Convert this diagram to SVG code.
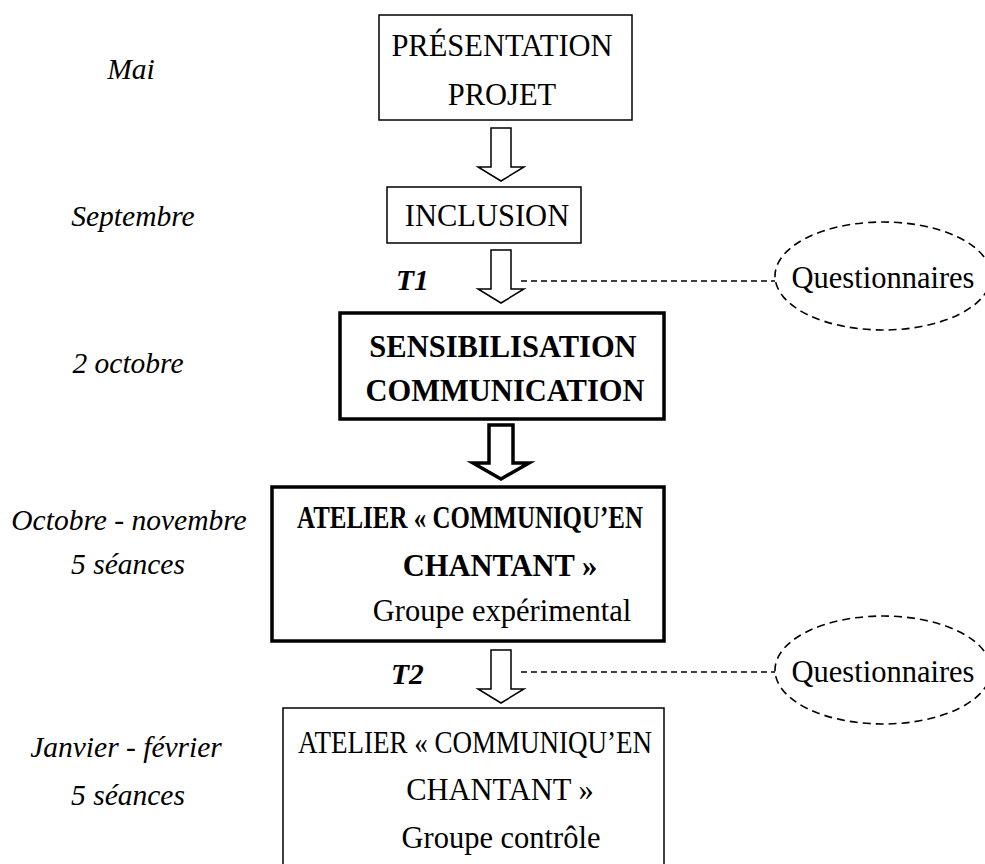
<svg xmlns="http://www.w3.org/2000/svg" width="985" height="864" viewBox="0 0 985 864">
<style>
  text { font-family: "Liberation Serif", "Times New Roman", serif; font-size: 30.5px; fill: #000; }
  .c { text-anchor: middle; }
  .b { font-weight: bold; }
  .i { font-style: italic; font-size: 29.5px; }
  .box { fill: #fff; stroke: #000; stroke-width: 1.5; }
  .thick { fill: #fff; stroke: #000; stroke-width: 3.5; }
  .arrow { fill: #fff; stroke: #000; stroke-width: 1.5; stroke-linejoin: miter; }
  .arrowT { fill: #fff; stroke: #000; stroke-width: 3.5; stroke-linejoin: miter; }
  .dash { fill: none; stroke: #000; stroke-width: 1.5; stroke-dasharray: 6 4; }
  .oval { fill: none; stroke: #000; stroke-width: 1.6; stroke-dasharray: 8 5; }
</style>
<rect width="985" height="864" fill="#fff"/>

<g id="labels">
  <text class="i c" x="131" y="79">Mai</text>
  <text class="i c" x="133" y="226">Septembre</text>
  <text class="i c" x="128" y="373">2 octobre</text>
  <text class="i c" x="129" y="530">Octobre - novembre</text>
  <text class="i c" x="128" y="574">5 séances</text>
  <text class="i c" x="126" y="757">Janvier - février</text>
  <text class="i c" x="128" y="805">5 séances</text>
  <text class="i b" x="396" y="290">T1</text>
  <text class="i b" x="391" y="684">T2</text>
</g>

<g id="connectors">
  <path class="arrow" d="M491 128 H511 V167 H524 L501 181 L478 167 H491 Z"/>
  <path class="arrow" d="M491 250 H511 V289 H524 L501 303 L478 289 H491 Z"/>
  <path class="arrowT" d="M489 425 H513 V463 H529 L501 479 L473 463 H489 Z"/>
  <path class="arrow" d="M491 650 H511 V689 H524 L501 703 L478 689 H491 Z"/>
  <line class="dash" x1="521" y1="281" x2="775" y2="281"/>
  <line class="dash" x1="521" y1="672" x2="775" y2="672"/>
</g>

<g id="n-presentation">
  <rect class="box" x="379" y="15" width="253" height="105"/>
  <text class="c" x="502" y="56">PRÉSENTATION</text>
  <text class="c" x="502" y="105">PROJET</text>
</g>

<g id="n-inclusion">
  <rect class="box" x="387" y="187" width="194" height="56"/>
  <text class="c" x="487" y="226">INCLUSION</text>
</g>

<g id="n-q1">
  <ellipse class="oval" cx="883" cy="276" rx="108" ry="54"/>
  <text class="c" x="883" y="288">Questionnaires</text>
</g>

<g id="n-sensibilisation">
  <rect class="thick" x="340" y="313" width="324" height="106"/>
  <text class="c b" x="503" y="357">SENSIBILISATION</text>
  <text class="c b" x="505" y="401">COMMUNICATION</text>
</g>

<g id="n-atelier-exp">
  <rect class="thick" x="272" y="487" width="392" height="154"/>
  <text class="b" x="297" y="528" textLength="346" lengthAdjust="spacingAndGlyphs">ATELIER « COMMUNIQU’EN</text>
  <text class="c b" x="500" y="576">CHANTANT »</text>
  <text class="c" x="502" y="621">Groupe expérimental</text>
</g>

<g id="n-q2">
  <ellipse class="oval" cx="883" cy="670" rx="108" ry="54"/>
  <text class="c" x="883" y="682">Questionnaires</text>
</g>

<g id="n-atelier-ctrl">
  <rect class="box" x="283" y="708" width="381" height="170"/>
  <text x="298" y="753" textLength="354" lengthAdjust="spacingAndGlyphs">ATELIER « COMMUNIQU’EN</text>
  <text class="c" x="500" y="800">CHANTANT »</text>
  <text class="c" x="501" y="848">Groupe contrôle</text>
</g>
</svg>
